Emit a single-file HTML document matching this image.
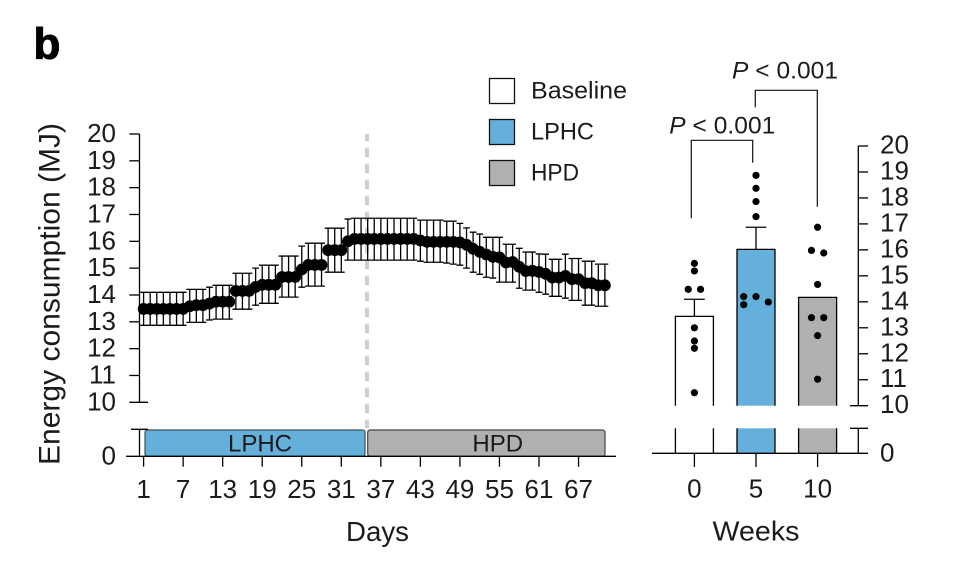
<!DOCTYPE html>
<html lang="en">
<head>
<meta charset="utf-8">
<title>Energy consumption chart</title>
<style>
html,body{margin:0;padding:0;background:#fff;width:972px;height:574px;overflow:hidden}
svg{display:block}
text{font-family:"Liberation Sans",sans-serif;fill:#1b1a1c}
</style>
</head>
<body>
<svg id="chart" xmlns="http://www.w3.org/2000/svg" width="972" height="574" viewBox="0 0 972 574">
  <rect x="0" y="0" width="972" height="574" fill="#fff"/>
  <text x="33.5" y="58.3" font-size="44" font-weight="700" style="fill:#000;stroke:#000;stroke-width:1">b</text>
  <text transform="translate(59.3,465) rotate(-90)" font-size="30" textLength="342" lengthAdjust="spacingAndGlyphs">Energy consumption (MJ)</text>
  <text x="346" y="541" font-size="28" textLength="63" lengthAdjust="spacingAndGlyphs">Days</text>
  <text x="712.5" y="540.5" font-size="28" textLength="87" lengthAdjust="spacingAndGlyphs">Weeks</text>

  <g>
    <rect x="489.5" y="78.5" width="25" height="25" fill="#fff" stroke="#111" stroke-width="1.3"/>
    <text x="531" y="98.3" font-size="24" textLength="96" lengthAdjust="spacingAndGlyphs">Baseline</text>
    <rect x="489.5" y="119.5" width="25" height="25" fill="#65b0da" stroke="#111" stroke-width="1.3"/>
    <text x="531" y="139.3" font-size="24" textLength="63" lengthAdjust="spacingAndGlyphs">LPHC</text>
    <rect x="489.5" y="160.5" width="25" height="25" fill="#b0b0b0" stroke="#111" stroke-width="1.3"/>
    <text x="531" y="180.3" font-size="24" textLength="48" lengthAdjust="spacingAndGlyphs">HPD</text>
  </g>

  <g>
    <path d="M691.3 218.3V140.3H752.7V162.7" fill="none" stroke="#111" stroke-width="1.2"/>
    <path d="M755.3 107.3V90.3H817.3V206.7" fill="none" stroke="#111" stroke-width="1.2"/>
    <text x="669.3" y="133.3" font-size="24.5" textLength="106" lengthAdjust="spacing"><tspan font-style="italic">P</tspan> &lt; 0.001</text>
    <text x="732" y="78.7" font-size="24.5" textLength="106" lengthAdjust="spacing"><tspan font-style="italic">P</tspan> &lt; 0.001</text>
  </g>

  <line x1="367" y1="134" x2="367" y2="428" stroke="#cfcfcf" stroke-width="4" stroke-dasharray="9.5 6.5" stroke-dashoffset="2.3"/>

  <g>
    <rect x="145" y="430" width="220" height="26.3" rx="2.5" fill="#65b0da" stroke="#3f4f5a" stroke-width="1.2"/>
    <text x="260" y="451.7" font-size="24" text-anchor="middle">LPHC</text>
    <rect x="367.7" y="430" width="237.3" height="26.3" rx="2.5" fill="#b0b0b0" stroke="#444" stroke-width="1.2"/>
    <text x="497.7" y="451.7" font-size="24" text-anchor="middle">HPD</text>
  </g>

  <g id="left-axis"></g>
  <g id="left-series"></g>
  <g id="right-bars"></g>
  <g id="right-axis"></g>
  <g id="right-dots"></g>
</svg>
<script>
const dayTicks = [1, 7, 13, 19, 25, 31, 37, 43, 49, 55, 61, 67];
const energyTicks = [10, 11, 12, 13, 14, 15, 16, 17, 18, 19, 20];
const dailyMeans = [
  13.48,13.48,13.48,13.48,13.48,13.48,13.48,13.58,13.62,13.62,
  13.68,13.75,13.75,13.75,14.15,14.15,14.15,14.30,14.38,14.38,
  14.38,14.67,14.67,14.67,14.95,15.12,15.12,15.12,15.67,15.67,
  15.67,16.00,16.09,16.09,16.09,16.09,16.09,16.09,16.09,16.09,
  16.09,16.09,16.03,15.98,15.98,15.98,15.98,15.98,15.96,15.87,
  15.72,15.61,15.51,15.42,15.40,15.21,15.23,15.05,14.89,14.90,
  14.86,14.79,14.65,14.65,14.71,14.59,14.59,14.44,14.44,14.36,14.36
];
const dailyUpper = [
  14.10,14.10,14.10,14.10,14.10,14.10,14.10,14.21,14.21,14.21,
  14.29,14.36,14.36,14.36,14.81,14.81,14.81,15.00,15.11,15.11,
  15.11,15.45,15.45,15.45,15.82,15.93,15.93,15.93,16.49,16.49,
  16.49,16.83,16.86,16.86,16.86,16.86,16.86,16.86,16.86,16.86,
  16.86,16.86,16.79,16.79,16.79,16.79,16.75,16.75,16.67,16.50,
  16.34,16.27,16.15,16.15,16.15,15.89,15.89,15.74,15.60,15.60,
  15.53,15.52,15.33,15.33,15.52,15.36,15.36,15.26,15.26,15.15,15.15
];
const dailyLower = [
  12.87,12.87,12.87,12.87,12.87,12.87,12.87,12.98,12.98,12.98,
  13.07,13.10,13.10,13.10,13.47,13.47,13.47,13.62,13.69,13.69,
  13.69,13.92,13.92,13.92,14.29,14.33,14.33,14.33,14.85,14.85,
  14.85,15.30,15.30,15.30,15.30,15.30,15.30,15.30,15.30,15.30,
  15.30,15.30,15.26,15.22,15.22,15.22,15.19,15.15,15.11,15.00,
  14.85,14.77,14.66,14.63,14.48,14.48,14.48,14.25,14.18,14.18,
  14.10,14.03,13.95,13.95,13.88,13.80,13.80,13.62,13.62,13.58,13.58
];
const weekCategories = ["0", "5", "10"];
const barColors = ["#ffffff", "#65b0da", "#b0b0b0"];
const weekMeans = [13.44, 16.02, 14.17];
const weekErrorTops = [14.10, 16.87, null];
const dotsBaseline = [15.48, 15.19, 14.48, 14.48, 13.00, 12.49, 12.21, 10.50];
const dotsLphc = [18.87, 18.37, 17.86, 17.28, 14.20, 14.20, 13.99, 13.89];
const dotsHpd = [16.87, 15.98, 15.88, 14.67, 13.39, 13.39, 12.70, 11.02];
const swarmBaseline = [0, 0, -0.5, 0.5, 0, 0, 0, 0];
const swarmLphc = [0, 0, 0, 0, -1, 0, 1, -1];
const swarmHpd = [0, -0.5, 0.5, 0, -0.5, 0.5, 0, 0];

const NS = "http://www.w3.org/2000/svg";
function make(parent, tag, attrs, txt) {
  const el = document.createElementNS(NS, tag);
  for (const k in attrs) el.setAttribute(k, attrs[k]);
  if (txt !== undefined) el.textContent = txt;
  parent.appendChild(el);
  return el;
}
const xDay = d => 143.6 + (d - 1) * 6.59;
const yLeft = v => 402.3 - (v - 10) * 26.83;
const yRight = v => 405.7 - (v - 10) * 25.97;
const xWeek = i => 694.4 + i * 61.6;
const zeroLeft = 456.3;
const breakLeft = 429.3;
const zeroRight = 453.3;
const breakRight = 428.3;
const ink = { stroke: "#000", "stroke-width": 1.3, fill: "none" };
const tickFont = 26;

/* left axes */
const la = document.getElementById("left-axis");
energyTicks.forEach(v => {
  const y = yLeft(v);
  const t = make(la, "line", Object.assign({ x1: 129.3, x2: v === 10 ? 148 : 139.5, y1: y, y2: y }, ink));
  
  
  const l = make(la, "text", { x: 116, y: y + 8, "font-size": tickFont, "text-anchor": "end" }, String(v));
  
  
});
const leftSpine = make(la, "line", Object.assign({ x1: 139.5, x2: 139.5, y1: yLeft(20), y2: yLeft(10) }, ink));


const leftSpineLow = make(la, "line", Object.assign({ x1: 139.5, x2: 139.5, y1: breakLeft, y2: zeroLeft }, ink));


const leftBreak = make(la, "line", Object.assign({ x1: 131, x2: 148, y1: breakLeft, y2: breakLeft }, ink));


const leftBase = make(la, "line", Object.assign({ x1: 126, x2: 616, y1: zeroLeft, y2: zeroLeft }, ink));


const leftZero = make(la, "text", { x: 116, y: zeroLeft + 8, "font-size": tickFont, "text-anchor": "end" }, "0");


dayTicks.forEach(d => {
  const x = xDay(d);
  const t = make(la, "line", Object.assign({ x1: x, x2: x, y1: zeroLeft, y2: 466.7 }, ink));
  
  
  const l = make(la, "text", { x: x, y: 498, "font-size": tickFont, "text-anchor": "middle" }, String(d));
  
  
});

/* daily series */
const ls = document.getElementById("left-series");
dailyMeans.forEach((m, i) => {
  const x = xDay(i + 1);
  const top = yLeft(dailyUpper[i]);
  const bot = yLeft(dailyLower[i]);
  const e = make(ls, "path", Object.assign({ d: `M${x} ${top}V${bot}M${x - 3.4} ${top}H${x + 3.4}M${x - 3.4} ${bot}H${x + 3.4}` }, ink));
  
  
});
dailyMeans.forEach((m, i) => {
  const p = make(ls, "circle", { cx: xDay(i + 1), cy: yLeft(m), r: 5.9, fill: "#000" });
  
  
});

/* weekly bars */
const rb = document.getElementById("right-bars");
const barHalf = 19;
weekCategories.forEach((c, i) => {
  const cx = xWeek(i);
  const top = yRight(weekMeans[i]);
  const f1 = make(rb, "rect", { x: cx - barHalf, y: top, width: barHalf * 2, height: yRight(10) - top, fill: barColors[i] });
  
  
  const f2 = make(rb, "rect", { x: cx - barHalf, y: breakRight, width: barHalf * 2, height: zeroRight - breakRight, fill: barColors[i] });
  
  
  const o1 = make(rb, "path", Object.assign({ d: `M${cx - barHalf} ${yRight(10)}V${top}H${cx + barHalf}V${yRight(10)}` }, ink));
  
  
  const o2 = make(rb, "path", Object.assign({ d: `M${cx - barHalf} ${breakRight}V${zeroRight}M${cx + barHalf} ${breakRight}V${zeroRight}` }, ink));
  
  
  if (weekErrorTops[i] !== null) {
    const ey = yRight(weekErrorTops[i]);
    const e = make(rb, "path", Object.assign({ d: `M${cx} ${top}V${ey}M${cx - 10.4} ${ey}H${cx + 10.4}` }, ink));
    
    
  }
});

/* weekly axes */
const ra = document.getElementById("right-axis");
energyTicks.forEach(v => {
  const y = yRight(v);
  const t = make(ra, "line", Object.assign({ x1: v === 10 ? 850 : 858.3, x2: 868, y1: y, y2: y }, ink));
  
  
  const l = make(ra, "text", { x: 880, y: y + 7.5, "font-size": tickFont }, String(v));
  
  
});
const rightSpine = make(ra, "line", Object.assign({ x1: 858.3, x2: 858.3, y1: yRight(20), y2: yRight(10) }, ink));


const rightSpineLow = make(ra, "line", Object.assign({ x1: 858.3, x2: 858.3, y1: breakRight, y2: zeroRight }, ink));


const rightBreak = make(ra, "line", Object.assign({ x1: 850, x2: 868, y1: breakRight, y2: breakRight }, ink));


const rightBase = make(ra, "line", Object.assign({ x1: 652, x2: 868, y1: zeroRight, y2: zeroRight }, ink));


const rightZero = make(ra, "text", { x: 880, y: zeroRight + 8, "font-size": tickFont }, "0");


weekCategories.forEach((c, i) => {
  const x = xWeek(i);
  const t = make(ra, "line", Object.assign({ x1: x, x2: x, y1: zeroRight, y2: 467 }, ink));
  
  
  const l = make(ra, "text", { x: x, y: 497.5, "font-size": tickFont, "text-anchor": "middle" }, c);
  
  
});

/* weekly dots */
const rd = document.getElementById("right-dots");
const dotGroups = [dotsBaseline, dotsLphc, dotsHpd];
const swarmGroups = [swarmBaseline, swarmLphc, swarmHpd];
dotGroups.forEach((vals, g) => {
  vals.forEach((v, j) => {
    const dot = make(rd, "circle", { cx: xWeek(g) + swarmGroups[g][j] * 12.3, cy: yRight(v), r: 3.6, fill: "#000" });
    
    
  });
});
</script>
</body>
</html>
